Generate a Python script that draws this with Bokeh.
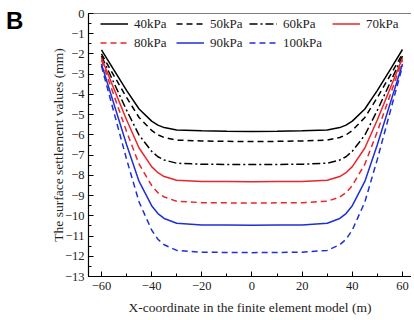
from bokeh.plotting import figure
from bokeh.models import (Legend, LegendItem, SingleIntervalTicker, Span, Range1d, Div)
from bokeh.layouts import row
from bokeh.embed import file_html
from bokeh.resources import INLINE

x_coord = [-60, -55, -50, -45, -40, -37.5, -35, -30, -20, -10, 0, 10, 20, 30, 35, 37.5, 40, 45, 50, 55, 60]
s40 = [-1.80, -2.80, -3.80, -4.72, -5.32, -5.52, -5.64, -5.76, -5.80, -5.82, -5.83, -5.82, -5.80, -5.76, -5.64, -5.52, -5.32, -4.72, -3.80, -2.80, -1.78]
s50 = [-2.00, -3.08, -4.15, -5.14, -5.78, -6.00, -6.13, -6.26, -6.30, -6.32, -6.33, -6.32, -6.30, -6.26, -6.13, -6.00, -5.78, -5.14, -4.15, -3.08, -2.00]
s60 = [-2.10, -3.44, -4.78, -6.01, -6.81, -7.08, -7.24, -7.40, -7.45, -7.46, -7.47, -7.46, -7.45, -7.40, -7.24, -7.08, -6.81, -6.01, -4.78, -3.44, -2.10]
s70 = [-2.20, -3.73, -5.25, -6.65, -7.57, -7.87, -8.06, -8.24, -8.30, -8.31, -8.32, -8.31, -8.30, -8.24, -8.06, -7.87, -7.57, -6.65, -5.25, -3.73, -2.20]
s80 = [-2.30, -4.06, -5.83, -7.45, -8.50, -8.86, -9.07, -9.28, -9.35, -9.36, -9.37, -9.36, -9.35, -9.28, -9.07, -8.86, -8.50, -7.45, -5.83, -4.06, -2.30]
s90 = [-2.50, -4.49, -6.48, -8.30, -9.50, -9.89, -10.13, -10.37, -10.45, -10.46, -10.47, -10.46, -10.45, -10.37, -10.13, -9.89, -9.50, -8.30, -6.48, -4.49, -2.50]
s100 = [-2.60, -4.90, -7.20, -9.32, -10.70, -11.16, -11.43, -11.71, -11.80, -11.81, -11.82, -11.81, -11.80, -11.71, -11.43, -11.16, -10.70, -9.32, -7.20, -4.90, -2.60]

labels = ["40kPa", "50kPa", "60kPa", "70kPa", "80kPa", "90kPa", "100kPa"]
series = [s40, s50, s60, s70, s80, s90, s100]
colors = ["black", "black", "black", "#e8262b", "#e8262b", "#1f2fd6", "#1f2fd6"]
dashes = ["solid", "6 4", "8 3 2 3", "solid", "6 4", "solid", "6 4"]

SERIF = "Liberation Serif"
FRAME_H = 263

p = figure(width=380, height=13 + FRAME_H + 43, output_backend="svg", toolbar_location=None,
           x_range=Range1d(-65.17, 63.6), y_range=Range1d(-13, 0),
           min_border_left=57, min_border_right=0, min_border_top=13, min_border_bottom=43)
p.outline_line_color = None
p.xgrid.visible = False
p.ygrid.visible = False
p.background_fill_color = "white"

renderers = []
for lab, ys, c, d in zip(labels, series, colors, dashes):
    r = p.line(x_coord, ys, line_color=c, line_width=1.5, line_dash=d)
    renderers.append(r)

p.add_layout(Span(location=0, dimension="width", line_color="black", line_width=1.2))

for ax in (p.xaxis[0], p.yaxis[0]):
    ax.axis_line_width = 1.2
    ax.axis_line_color = "black"
    ax.major_tick_in = 5
    ax.major_tick_out = 0
    ax.minor_tick_in = 3
    ax.minor_tick_out = 0
    ax.major_tick_line_color = "black"
    ax.minor_tick_line_color = "black"
    ax.major_label_text_font = SERIF
    ax.major_label_text_font_size = "12.5px"
    ax.major_label_text_color = "#222222"
    ax.axis_label_text_font = SERIF
    ax.axis_label_text_font_size = "13.5px"
    ax.axis_label_text_font_style = "normal"
    ax.axis_label_text_color = "#222222"

p.xaxis.ticker = SingleIntervalTicker(interval=20, num_minor_ticks=2)
p.yaxis.ticker = SingleIntervalTicker(interval=1, num_minor_ticks=2)
p.xaxis.axis_label = "X-coordinate in the finite element model (m)"
p.yaxis.axis_label = "The surface settlement values (mm)"
p.xaxis.major_label_standoff = 5
p.yaxis.major_label_standoff = 4
p.xaxis.axis_label_standoff = 7
p.yaxis.axis_label_standoff = -4

columns = [[0, 4], [1, 5], [2, 6], [3]]
col_x = [12, 88, 161, 244]
ROW_H = 19
for idxs, cx in zip(columns, col_x):
    items = [LegendItem(label=labels[i], renderers=[renderers[i]]) for i in idxs]
    h = ROW_H * len(idxs)
    lg = Legend(items=items, location=(cx, FRAME_H - 1 - h), padding=0, margin=0,
                spacing=0, glyph_width=28, glyph_height=ROW_H, label_height=ROW_H,
                label_standoff=6,
                label_text_font=SERIF, label_text_font_size="13px",
                label_text_color="#222222",
                border_line_color=None, background_fill_alpha=0)
    p.add_layout(lg, "center")

panel = Div(text="B", width=25, height=30, margin=(9, 0, 0, 6),
            styles={"font-family": "Liberation Sans", "font-size": "24px",
                    "font-weight": "bold", "line-height": "24px", "color": "black"})

layout = row(panel, p, spacing=0)
open("out.html", "w").write(file_html(layout, INLINE))
